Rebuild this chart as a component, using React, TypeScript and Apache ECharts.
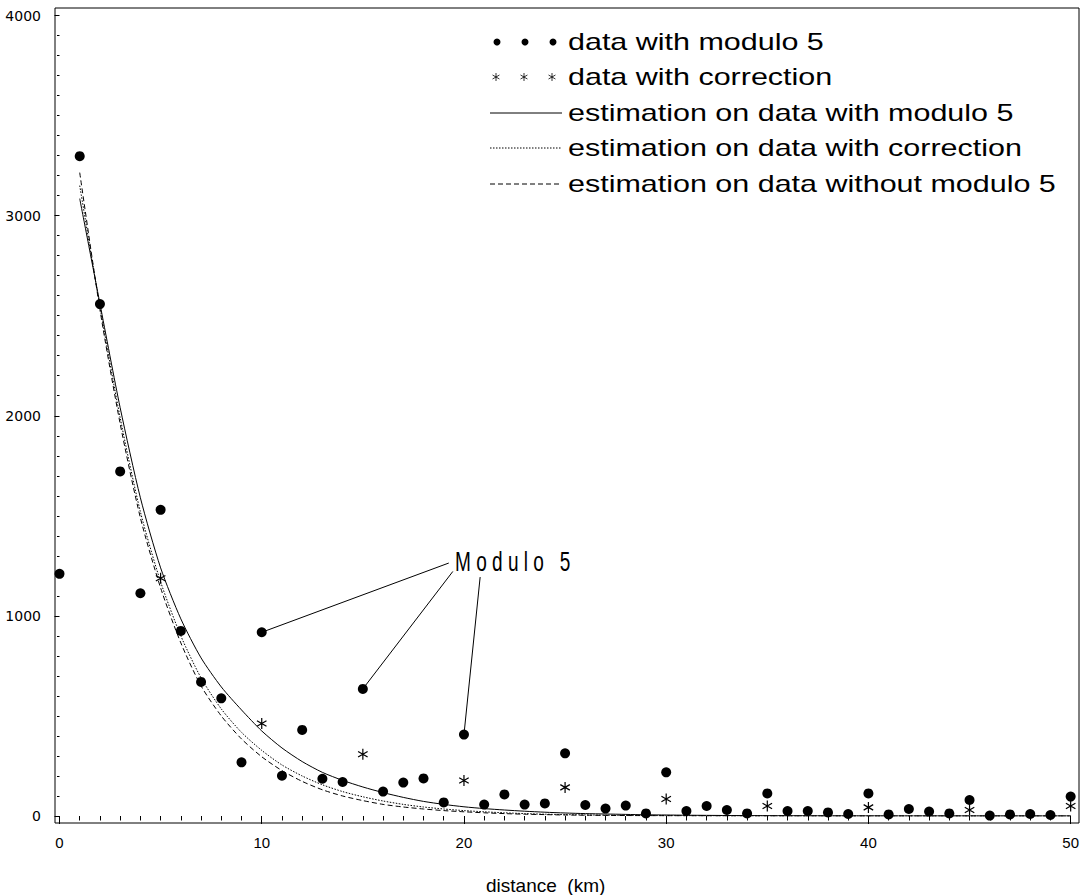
import React, { useEffect, useRef } from "react";
import * as echarts from "echarts";

// ---------- data ----------
const distances = [
  0, 1, 2, 3, 4, 5, 6, 7, 8, 9, 10, 11, 12, 13, 14, 15, 16, 17, 18, 19, 20, 21, 22, 23, 24, 25,
  26, 27, 28, 29, 30, 31, 32, 33, 34, 35, 36, 37, 38, 39, 40, 41, 42, 43, 44, 45, 46, 47, 48, 49, 50,
];
const modulo5Counts = [
  1210, 3297, 2558, 1722, 1113, 1530, 925, 670, 588, 268, 918, 201, 430, 186, 170, 635, 122, 167, 188, 68,
  407, 57, 108, 57, 63, 313, 55, 37, 52, 13, 218, 25, 50, 30, 13, 113, 25, 25, 18, 10, 113, 8, 35, 22, 13,
  80, 2, 8, 10, 5, 97,
];
const correctionDistances = [5, 10, 15, 20, 25, 30, 35, 40, 45, 50];
const correctionCounts = [1188, 462, 309, 177, 143, 85, 50, 43, 30, 50];

const fitDistances = [
  1, 2, 3, 4, 5, 6, 7, 8, 9, 10, 11, 12, 13, 14, 15, 16, 17, 18, 19, 20, 21, 22, 23, 24, 25, 26, 27, 28,
  29, 30, 31, 32, 33, 34, 35, 36, 37, 38, 39, 40, 41, 42, 43, 44, 45, 46, 47, 48, 49, 50,
];
const fitModulo5 = [
  3085, 2560, 2040, 1590, 1240, 985, 790, 645, 530, 425, 340, 272, 218, 178, 145, 117, 93, 73, 58, 46, 37,
  30, 24, 19, 15, 12, 10, 8, 6, 5, 4, 3.2, 2.5, 2, 1.6, 1.3, 1, 0.8, 0.6, 0.5, 0.4, 0.3, 0.25, 0.2, 0.15,
  0.12, 0.1, 0.08, 0.06, 0.05,
];
const fitCorrection = [
  3150, 2545, 1990, 1520, 1170, 900, 690, 535, 418, 328, 255, 200, 156, 122, 96, 75, 58, 45, 35, 27, 21,
  16, 12, 9, 7, 5.5, 4, 3, 2.4, 1.8, 1.4, 1.1, 0.8, 0.6, 0.5, 0.4, 0.3, 0.2, 0.15, 0.1, 0.08, 0.07, 0.06,
  0.05, 0.04, 0.03, 0.03, 0.02, 0.02, 0.01,
];
const fitWithoutModulo5 = [
  3215, 2530, 1960, 1490, 1140, 865, 650, 500, 385, 296, 227, 173, 131, 100, 77, 58, 45, 35, 27, 21, 16,
  12, 9, 7, 5, 4, 3, 2.2, 1.6, 1.2, 0.9, 0.7, 0.5, 0.4, 0.3, 0.2, 0.15, 0.1, 0.08, 0.06, 0.05, 0.04, 0.03,
  0.03, 0.02, 0.02, 0.01, 0.01, 0.01, 0.01,
];

const xTickLabels = [0, 10, 20, 30, 40, 50];
const yTickLabels = [0, 1000, 2000, 3000, 4000];
const xAxisTitle = "distance\u00A0\u00A0(km)";
const legendLabels = [
  "data with modulo 5",
  "data with correction",
  "estimation on data with modulo 5",
  "estimation on data with correction",
  "estimation on data without modulo 5",
];
const annotationText = "M\u00A0o\u00A0d\u00A0u\u00A0l\u00A0o\u00A0\u00A0\u00A05";
const annotatedDistances = [10, 15, 20];
const annotationAnchors = [
  [19.25, 1264],
  [19.45, 1222],
  [20.8, 1194],
];

const ASTERISK_D = "M5 0 L5 10 M0.67 2.5 L9.33 7.5 M0.67 7.5 L9.33 2.5";

const pairs = (xs: number[], ys: number[]) => xs.map((x, i) => [x, ys[i]]);

export default function App() {
  const ref = useRef<HTMLDivElement>(null);

  useEffect(() => {
    if (!ref.current) return;
    echarts.graphic.registerShape("asterisk", echarts.graphic.extendPath(ASTERISK_D, {}));
    const chart = echarts.init(ref.current, undefined, { renderer: "svg" });

    const font = '"Liberation Sans", Arial, sans-serif';
    const wide = '"DejaVu Sans", "Liberation Sans", sans-serif';

    const legendY = [42, 77, 113, 148, 184];
    const legendTextX = 568;
    const graphics: any[] = [
      {
        type: "rect",
        shape: { x: 55, y: 8, width: 1024, height: 815 },
        style: { fill: "none", stroke: "#000", lineWidth: 1 },
        silent: true,
      },
    ];
    // legend icons
    [497, 525, 553].forEach((cx) =>
      graphics.push({ type: "circle", shape: { cx, cy: legendY[0], r: 3.5 }, style: { fill: "#000" } })
    );
    [496, 524, 552].forEach((cx) =>
      graphics.push({
        type: "asterisk",
        x: cx - 4,
        y: legendY[1] - 4,
        scaleX: 0.8,
        scaleY: 0.8,
        style: { fill: "none", stroke: "#000", lineWidth: 1 },
      })
    );
    const lineDashes: any[] = [null, [1.5, 1.5], [5, 3]];
    lineDashes.forEach((dash, i) =>
      graphics.push({
        type: "line",
        shape: { x1: 490, y1: legendY[2 + i], x2: 562, y2: legendY[2 + i] },
        style: { stroke: "#000", lineWidth: 1, lineDash: dash || undefined },
      })
    );
    legendLabels.forEach((t, i) =>
      graphics.push({
        type: "text",
        x: legendTextX,
        y: legendY[i],
        scaleX: 1.27,
        style: { text: t, font: `24px ${font}`, fill: "#000", verticalAlign: "middle", align: "left" },
      })
    );
    graphics.push({
      type: "text",
      x: 455,
      y: 561,
      scaleX: 0.68,
      style: { text: annotationText, font: `28px ${font}`, fill: "#000", verticalAlign: "middle", align: "left" },
    });
    graphics.push({
      type: "text",
      x: 486,
      y: 885,
      style: { text: xAxisTitle, font: `19px ${font}`, fill: "#000", verticalAlign: "middle", align: "left" },
    });

    const annotationLines = annotatedDistances.map((d, i) => [
      { coord: [d, modulo5Counts[distances.indexOf(d)]] },
      { coord: annotationAnchors[i] },
    ]);

    chart.setOption({
      animation: false,
      backgroundColor: "#fff",
      grid: { left: 59.5, right: 6.5, top: 15.5, bottom: 79 },
      xAxis: {
        type: "value",
        min: 0,
        max: 50,
        interval: 10,
        offset: 7,
        axisLine: { show: false },
        axisTick: { show: true, length: 8, lineStyle: { color: "#000", width: 1 } },
        minorTick: { show: true, splitNumber: 10, length: 4.5, lineStyle: { color: "#000", width: 1 } },
        splitLine: { show: false },
        axisLabel: {
          color: "#000",
          fontSize: 15,
          fontFamily: font,
          margin: 12,
          formatter: (v: number) => (xTickLabels.includes(v) ? String(v) : ""),
        },
      },
      yAxis: {
        type: "value",
        min: 0,
        max: 4000,
        interval: 1000,
        offset: 4.5,
        axisLine: { show: false },
        axisTick: { show: true, length: 5, lineStyle: { color: "#000", width: 1 } },
        minorTick: { show: true, splitNumber: 10, length: 2.5, lineStyle: { color: "#000", width: 1 } },
        splitLine: { show: false },
        axisLabel: {
          color: "#000",
          fontSize: 14,
          fontFamily: wide,
          margin: 14,
          formatter: (v: number) => (yTickLabels.includes(v) ? String(v) : ""),
        },
      },
      series: [
        {
          name: legendLabels[2],
          type: "line",
          data: pairs(fitDistances, fitModulo5),
          showSymbol: false,
          smooth: 0.25,
          lineStyle: { color: "#000", width: 1, type: "solid" },
          z: 2,
        },
        {
          name: legendLabels[3],
          type: "line",
          data: pairs(fitDistances, fitCorrection),
          showSymbol: false,
          smooth: 0.25,
          lineStyle: { color: "#000", width: 1, type: [1.5, 1.5] },
          z: 2,
        },
        {
          name: legendLabels[4],
          type: "line",
          data: pairs(fitDistances, fitWithoutModulo5),
          showSymbol: false,
          smooth: 0.25,
          lineStyle: { color: "#000", width: 1, type: [5, 3] },
          z: 2,
        },
        {
          name: legendLabels[0],
          type: "scatter",
          data: pairs(distances, modulo5Counts),
          symbol: "circle",
          symbolSize: 10,
          itemStyle: { color: "#000", opacity: 1 },
          z: 4,
          markLine: {
            silent: true,
            symbol: ["none", "none"],
            label: { show: false },
            lineStyle: { color: "#000", width: 1, type: "solid", opacity: 1 },
            data: annotationLines,
          },
        },
        {
          name: legendLabels[1],
          type: "scatter",
          data: pairs(correctionDistances, correctionCounts),
          symbol: "path://" + ASTERISK_D,
          symbolSize: 11,
          symbolKeepAspect: true,
          itemStyle: { color: "none", borderColor: "#000", borderWidth: 1.2, opacity: 1 },
          z: 5,
        },
      ],
      graphic: graphics,
    });

    return () => chart.dispose();
  }, []);

  return (
    <div
      ref={ref}
      style={{ position: "absolute", left: 0, top: 0, width: 1082, height: 895, background: "#fff" }}
    />
  );
}
